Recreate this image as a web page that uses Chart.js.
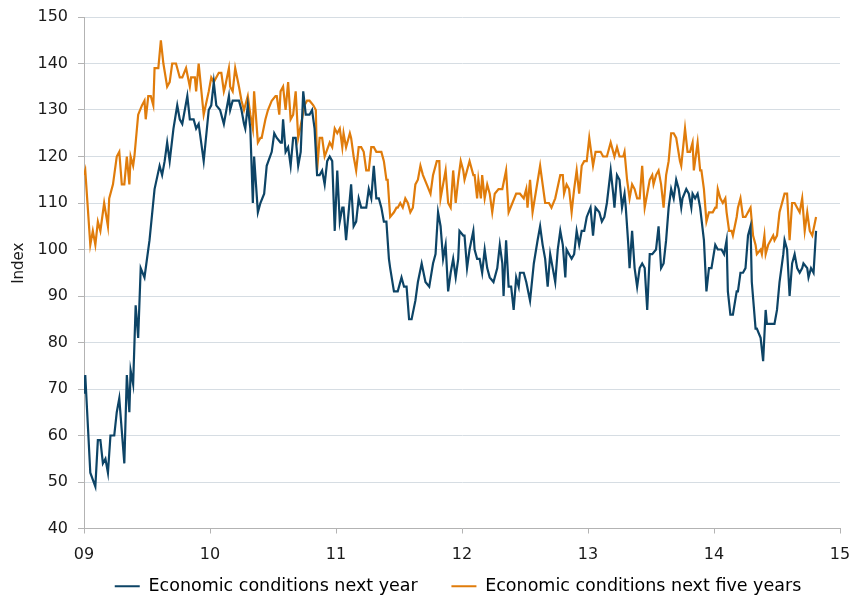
<html>
<head>
<script src="https://cdn.jsdelivr.net/npm/chart.js@4"></script>
<style>
  body { margin: 0; background: #fff; }
  #wrap { width: 853px; height: 601px; }
</style>
</head>
<body>
<div id="wrap"><canvas id="chartCanvas" width="853" height="601"></canvas></div>
<script>
// time in years (9 = 2009), values = index
var nextYearT = [9.00,9.01,9.05,9.09,9.11,9.13,9.15,9.17,9.19,9.21,9.24,9.26,9.28,9.30,9.32,9.34,9.36,9.37,9.39,9.41,
  9.43,9.45,9.48,9.52,9.56,9.60,9.62,9.64,9.66,9.68,9.71,9.74,9.76,9.78,9.82,9.84,9.87,9.89,9.91,9.95,
  9.99,10.01,10.03,10.05,10.08,10.11,10.15,10.16,10.18,10.23,10.25,10.27,10.28,10.30,10.32,10.34,10.35,10.38,10.40,10.43,
  10.45,10.49,10.51,10.53,10.56,10.57,10.58,10.60,10.62,10.64,10.66,10.68,10.70,10.72,10.74,10.76,10.79,10.81,10.83,10.85,
  10.87,10.89,10.91,10.93,10.95,10.97,10.99,11.01,11.03,11.05,11.06,11.08,11.11,11.12,11.14,11.16,11.18,11.20,11.24,11.26,
  11.28,11.30,11.32,11.34,11.36,11.38,11.40,11.42,11.43,11.46,11.48,11.49,11.52,11.54,11.56,11.58,11.60,11.63,11.65,11.68,
  11.71,11.74,11.77,11.79,11.81,11.83,11.85,11.87,11.89,11.91,11.93,11.95,11.97,11.98,12.01,12.02,12.04,12.06,12.09,12.10,
  12.12,12.14,12.16,12.18,12.20,12.22,12.25,12.28,12.30,12.32,12.33,12.35,12.37,12.39,12.41,12.43,12.45,12.46,12.49,12.51,
  12.54,12.57,12.60,12.62,12.64,12.66,12.68,12.70,12.72,12.74,12.76,12.78,12.80,12.82,12.83,12.85,12.87,12.89,12.91,12.93,
  12.95,12.97,12.99,13.02,13.04,13.06,13.09,13.11,13.13,13.15,13.18,13.20,13.21,13.23,13.25,13.27,13.29,13.30,13.32,13.33,
  13.35,13.37,13.39,13.41,13.43,13.45,13.47,13.49,13.51,13.54,13.56,13.58,13.60,13.62,13.64,13.66,13.68,13.70,13.72,13.74,
  13.75,13.78,13.80,13.82,13.83,13.85,13.87,13.89,13.92,13.94,13.96,13.98,14.01,14.03,14.06,14.08,14.10,14.11,14.13,14.15,
  14.18,14.19,14.21,14.23,14.25,14.27,14.29,14.30,14.33,14.34,14.37,14.39,14.41,14.42,14.44,14.47,14.48,14.50,14.52,14.55,
  14.56,14.58,14.60,14.62,14.64,14.66,14.68,14.70,14.71,14.74,14.75,14.77,14.79,14.81];
var nextYear = [69,73,52,49,59,59,54,55,52,60,60,65,68,61,54,73,65,74,71,88,
  81,96,94,102,113,118,116,119,123,119,126,131,128,127,133,128,128,126,127,119,
  130,131,136,131,130,127,133,130,132,132,130,127,126,131,126,110,120,108,110,112,
  118,121,125,124,123,123,128,121,122,118,124,124,118,121,134,129,129,130,126,116,
  116,117,114,119,120,119,104,117,106,109,109,102,111,114,105,106,111,109,109,113,
  111,118,111,111,109,106,106,98,96,91,91,91,94,92,92,85,85,89,93,97,
  93,92,97,99,108,105,98,101,91,95,98,94,98,104,103,103,96,100,104,100,
  98,98,95,100,96,94,93,96,101,97,90,102,92,92,87,94,92,95,95,93,
  89,97,102,105,101,98,92,99,96,93,100,104,101,94,100,99,98,99,104,101,
  104,104,107,109,103,109,108,106,107,110,117,112,109,116,115,109,112,109,101,96,
  104,96,92,96,97,96,87,99,99,100,105,96,97,102,109,113,111,115,113,109,
  111,113,112,109,112,111,112,109,102,91,96,96,101,100,100,99,102,91,86,86,
  91,91,95,95,96,103,105,93,83,83,81,76,87,84,84,84,84,87,93,99,
  102,100,90,97,99,96,95,96,97,96,94,96,95,104];

var fiveYearT = [9.00,9.01,9.05,9.07,9.09,9.11,9.13,9.16,9.19,9.20,9.23,9.26,9.28,9.30,9.32,9.34,9.36,9.37,9.39,9.40,
  9.43,9.46,9.48,9.49,9.51,9.53,9.55,9.56,9.59,9.61,9.63,9.66,9.68,9.70,9.73,9.76,9.78,9.81,9.84,9.85,
  9.88,9.89,9.91,9.95,9.99,10.01,10.03,10.07,10.09,10.11,10.12,10.15,10.16,10.18,10.20,10.23,10.25,10.27,10.30,10.32,
  10.34,10.35,10.38,10.40,10.41,10.44,10.46,10.49,10.52,10.53,10.55,10.56,10.58,10.60,10.62,10.64,10.66,10.68,10.70,10.73,
  10.75,10.77,10.79,10.82,10.84,10.85,10.87,10.89,10.91,10.95,10.97,10.99,11.01,11.03,11.05,11.06,11.08,11.11,11.12,11.14,
  11.16,11.18,11.20,11.22,11.24,11.26,11.28,11.30,11.32,11.34,11.36,11.38,11.40,11.41,11.43,11.46,11.48,11.49,11.51,11.53,
  11.55,11.57,11.59,11.61,11.63,11.65,11.67,11.69,11.72,11.75,11.77,11.80,11.82,11.83,11.85,11.87,11.89,11.91,11.93,11.95,
  11.97,11.99,12.01,12.02,12.04,12.06,12.09,12.10,12.12,12.13,12.15,12.16,12.18,12.20,12.22,12.24,12.26,12.29,12.32,12.35,
  12.37,12.40,12.43,12.46,12.49,12.51,12.52,12.54,12.56,12.59,12.62,12.64,12.66,12.69,12.71,12.74,12.78,12.80,12.81,12.83,
  12.85,12.87,12.89,12.91,12.93,12.95,12.97,12.99,13.01,13.04,13.06,13.10,13.12,13.15,13.18,13.20,13.21,13.23,13.25,13.28,
  13.29,13.31,13.33,13.35,13.37,13.39,13.41,13.43,13.45,13.47,13.49,13.51,13.52,13.54,13.56,13.58,13.60,13.62,13.64,13.66,
  13.68,13.70,13.73,13.74,13.77,13.79,13.81,13.83,13.84,13.87,13.89,13.90,13.92,13.94,13.96,13.99,14.01,14.02,14.03,14.05,
  14.07,14.09,14.10,14.12,14.14,14.15,14.18,14.19,14.21,14.23,14.25,14.27,14.29,14.31,14.33,14.34,14.37,14.38,14.40,14.41,
  14.43,14.45,14.47,14.48,14.50,14.52,14.55,14.56,14.58,14.60,14.62,14.64,14.66,14.68,14.70,14.72,14.74,14.76,14.78,14.81];
var fiveYear = [116,117,101,104,101,106,104,110,105,111,114,120,121,114,114,120,114,120,118,120,
  129,131,132,128,133,133,131,139,139,145,140,135,136,140,140,137,137,139,135,137,
  137,134,140,129,134,137,136,138,138,134,135,139,135,134,139,135,132,130,133,129,
  126,134,123,124,124,128,130,132,133,133,129,134,135,130,136,128,129,134,124,128,
  131,132,132,131,130,117,124,124,120,123,122,126,125,126,122,125,122,125,124,120,
  117,122,122,121,117,117,122,122,121,121,121,119,115,115,107,108,109,109,110,109,
  111,110,108,109,114,115,118,116,114,112,116,119,119,111,114,117,110,109,117,110,
  115,119,117,115,117,119,116,116,111,115,111,116,111,114,112,108,112,113,113,117,
  108,110,112,112,111,113,109,115,108,113,118,114,110,110,109,111,116,116,112,114,
  113,108,113,117,112,118,119,119,124,118,121,121,120,120,123,121,120,122,120,120,
  121,115,111,114,113,111,111,118,109,112,115,116,114,116,117,114,109,116,119,125,
  125,124,119,118,126,121,121,123,117,123,117,117,113,106,108,108,109,109,113,111,
  110,111,108,104,104,103,107,109,111,107,107,108,109,103,101,99,100,99,103,99,
  101,102,103,102,103,108,111,112,112,102,110,110,109,108,111,104,108,104,103,107];

var yearTicks = ['09','10','11','12','13','14','15'];
var seriesNames = ['Economic conditions next year', 'Economic conditions next five years'];
var seriesColors = ['#0d4466', '#e07c0b'];

function pairs(ts, vs) {
  var out = [];
  for (var i = 0; i < ts.length; i++) out.push({ x: ts[i], y: vs[i] });
  return out;
}

Chart.defaults.font.family = "'DejaVu Sans', Verdana, sans-serif";
Chart.defaults.font.size = 16;
Chart.defaults.color = '#1a1a1a';

// nudge the legend so it sits under the plot like the original
var legendShift = {
  id: 'legendShift',
  afterLayout: function (c) {
    c.legend.left += 38;
    c.legend.right += 38;
  }
};

var ctx = document.getElementById('chartCanvas').getContext('2d');
var chart = new Chart(ctx, {
  type: 'line',
  data: {
    datasets: [
      { label: seriesNames[0], data: pairs(nextYearT, nextYear), borderColor: seriesColors[0], backgroundColor: seriesColors[0] },
      { label: seriesNames[1], data: pairs(fiveYearT, fiveYear), borderColor: seriesColors[1], backgroundColor: seriesColors[1] }
    ]
  },
  options: {
    responsive: false,
    animation: false,
    layout: { padding: { left: 0, right: 13, top: 17, bottom: -4 } },
    elements: {
      point: { radius: 0 },
      line: { borderWidth: 2.2, tension: 0 }
    },
    scales: {
      x: {
        type: 'linear',
        min: 9, max: 15,
        ticks: {
          stepSize: 1,
          padding: 12,
          maxRotation: 0,
          callback: function (v) { return yearTicks[v - 9]; }
        },
        grid: { drawOnChartArea: false, drawTicks: true, tickLength: 5, tickColor: '#b3b3b3' },
        border: { color: '#b3b3b3', width: 1 },
        afterFit: function (s) { s.height = 32; s.paddingLeft = 0; s.paddingRight = 0; }
      },
      y: {
        min: 40, max: 150,
        ticks: { stepSize: 10, padding: 10 },
        // leading spaces lift the rotated title a little, as in the original
        title: { display: true, text: '    Index', padding: { top: 10, bottom: 0 }, font: { size: 15 } },
        grid: { color: '#d6dde3', tickLength: 6, tickColor: '#b3b3b3' },
        border: { color: '#b3b3b3', width: 1 },
        afterFit: function (s) { s.width = 84; s.paddingTop = 0; s.paddingBottom = 0; }
      }
    },
    plugins: {
      tooltip: { enabled: false },
      legend: {
        position: 'bottom',
        labels: {
          boxWidth: 25,
          boxHeight: 2,
          padding: 17,
          font: { size: 17.5 },
          generateLabels: function (c) {
            return c.data.datasets.map(function (d, i) {
              // trailing spaces widen the gap between the two entries
              var txt = i === 0 ? d.label + '   ' : d.label;
              return { text: txt, fillStyle: d.borderColor, strokeStyle: d.borderColor, lineWidth: 0, datasetIndex: i };
            });
          }
        }
      }
    }
  },
  plugins: [legendShift]
});
</script>
</body>
</html>
